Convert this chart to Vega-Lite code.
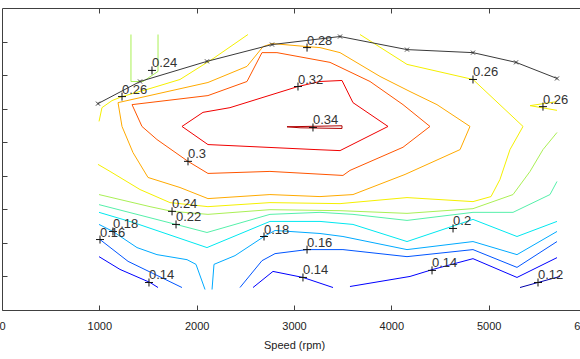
{
  "$schema": "https://vega.github.io/schema/vega-lite/v6.json",
  "width": 578,
  "height": 302,
  "autosize": {"type": "none"},
  "padding": {"left": 2, "top": 8, "right": 0, "bottom": 49},
  "background": "white",
  "config": {"view": {"stroke": null}, "axis": {"grid": false}},
  "datasets": {
    "contours": [
      {"piece":"p1","level":"0.34","o":1,"x":2928,"y":5.46},{"piece":"p1","level":"0.34","o":2,"x":3493,"y":5.49},{"piece":"p1","level":"0.34","o":3,"x":3493,"y":5.41},{"piece":"p1","level":"0.34","o":4,"x":3062,"y":5.43},{"piece":"p1","level":"0.34","o":5,"x":2928,"y":5.46},
      {"piece":"p2","level":"0.32","o":1,"x":1849,"y":5.47},{"piece":"p2","level":"0.32","o":2,"x":2065,"y":5.89},{"piece":"p2","level":"0.32","o":3,"x":2342,"y":6.03},{"piece":"p2","level":"0.32","o":4,"x":3041,"y":6.66},{"piece":"p2","level":"0.32","o":5,"x":3267,"y":6.81},{"piece":"p2","level":"0.32","o":6,"x":3493,"y":6.84},{"piece":"p2","level":"0.32","o":7,"x":3606,"y":6.18},{"piece":"p2","level":"0.32","o":8,"x":3966,"y":5.47},{"piece":"p2","level":"0.32","o":9,"x":3473,"y":4.75},{"piece":"p2","level":"0.32","o":10,"x":3226,"y":4.78},{"piece":"p2","level":"0.32","o":11,"x":2116,"y":4.93},{"piece":"p2","level":"0.32","o":12,"x":1849,"y":5.47},
      {"piece":"p3","level":"0.30","o":1,"x":1336,"y":6.12},{"piece":"p3","level":"0.30","o":2,"x":2116,"y":6.39},{"piece":"p3","level":"0.30","o":3,"x":2517,"y":6.81},{"piece":"p3","level":"0.30","o":4,"x":2671,"y":7.67},{"piece":"p3","level":"0.30","o":5,"x":2825,"y":7.67},{"piece":"p3","level":"0.30","o":6,"x":3370,"y":7.38},{"piece":"p3","level":"0.30","o":7,"x":3781,"y":6.81},{"piece":"p3","level":"0.30","o":8,"x":4120,"y":6.12},{"piece":"p3","level":"0.30","o":9,"x":4397,"y":5.47},{"piece":"p3","level":"0.30","o":10,"x":4120,"y":4.85},{"piece":"p3","level":"0.30","o":11,"x":3575,"y":4.16},{"piece":"p3","level":"0.30","o":12,"x":3503,"y":4.01},{"piece":"p3","level":"0.30","o":13,"x":2753,"y":4.13},{"piece":"p3","level":"0.30","o":14,"x":2116,"y":4.07},{"piece":"p3","level":"0.30","o":15,"x":1911,"y":4.43},{"piece":"p3","level":"0.30","o":16,"x":1592,"y":5.08},{"piece":"p3","level":"0.30","o":17,"x":1438,"y":5.47},{"piece":"p3","level":"0.30","o":18,"x":1336,"y":6.12},
      {"piece":"p4","level":"0.28","o":1,"x":1192,"y":6.18},{"piece":"p4","level":"0.28","o":2,"x":2116,"y":6.78},{"piece":"p4","level":"0.28","o":3,"x":2517,"y":7.26},{"piece":"p4","level":"0.28","o":4,"x":2682,"y":7.85},{"piece":"p4","level":"0.28","o":5,"x":2774,"y":7.94},{"piece":"p4","level":"0.28","o":6,"x":3134,"y":7.85},{"piece":"p4","level":"0.28","o":7,"x":3267,"y":7.82},{"piece":"p4","level":"0.28","o":8,"x":3473,"y":7.67},{"piece":"p4","level":"0.28","o":9,"x":3884,"y":6.96},{"piece":"p4","level":"0.28","o":10,"x":4192,"y":6.51},{"piece":"p4","level":"0.28","o":11,"x":4469,"y":6.12},{"piece":"p4","level":"0.28","o":12,"x":4808,"y":5.47},{"piece":"p4","level":"0.28","o":13,"x":4706,"y":4.78},{"piece":"p4","level":"0.28","o":14,"x":4141,"y":4.04},{"piece":"p4","level":"0.28","o":15,"x":3606,"y":3.44},{"piece":"p4","level":"0.28","o":16,"x":3267,"y":3.38},{"piece":"p4","level":"0.28","o":17,"x":2753,"y":3.44},{"piece":"p4","level":"0.28","o":18,"x":2116,"y":3.32},{"piece":"p4","level":"0.28","o":19,"x":1829,"y":3.65},{"piece":"p4","level":"0.28","o":20,"x":1500,"y":3.95},{"piece":"p4","level":"0.28","o":21,"x":1346,"y":4.69},{"piece":"p4","level":"0.28","o":22,"x":1233,"y":5.47},{"piece":"p4","level":"0.28","o":23,"x":1192,"y":6.18},
      {"piece":"p5","level":"0.26","o":1,"x":997,"y":5.62},{"piece":"p5","level":"0.26","o":2,"x":1027,"y":6.03},{"piece":"p5","level":"0.26","o":3,"x":1130,"y":6.24},{"piece":"p5","level":"0.26","o":4,"x":1233,"y":6.36},{"piece":"p5","level":"0.26","o":5,"x":1521,"y":6.60},{"piece":"p5","level":"0.26","o":6,"x":1829,"y":6.87},{"piece":"p5","level":"0.26","o":7,"x":2168,"y":7.49},{"piece":"p5","level":"0.26","o":8,"x":2527,"y":8.21},
      {"piece":"p6","level":"0.26","o":1,"x":986,"y":4.34},{"piece":"p6","level":"0.26","o":2,"x":1110,"y":4.13},{"piece":"p6","level":"0.26","o":3,"x":1418,"y":3.59},{"piece":"p6","level":"0.26","o":4,"x":1726,"y":3.20},{"piece":"p6","level":"0.26","o":5,"x":2116,"y":3.08},{"piece":"p6","level":"0.26","o":6,"x":2753,"y":3.20},{"piece":"p6","level":"0.26","o":7,"x":3473,"y":3.17},{"piece":"p6","level":"0.26","o":8,"x":4161,"y":3.35},{"piece":"p6","level":"0.26","o":9,"x":4839,"y":3.23},{"piece":"p6","level":"0.26","o":10,"x":5024,"y":3.38},{"piece":"p6","level":"0.26","o":11,"x":5116,"y":3.89},{"piece":"p6","level":"0.26","o":12,"x":5219,"y":4.78},{"piece":"p6","level":"0.26","o":13,"x":5353,"y":5.47},{"piece":"p6","level":"0.26","o":14,"x":4839,"y":6.87},{"piece":"p6","level":"0.26","o":15,"x":4161,"y":7.32},{"piece":"p6","level":"0.26","o":16,"x":3678,"y":8.21},
      {"piece":"p7","level":"0.26","o":1,"x":5702,"y":6.21},{"piece":"p7","level":"0.26","o":2,"x":5425,"y":6.09},{"piece":"p7","level":"0.26","o":3,"x":5702,"y":5.95},
      {"piece":"p8","level":"0.24","o":1,"x":1325,"y":8.21},{"piece":"p8","level":"0.24","o":2,"x":1325,"y":6.81},{"piece":"p8","level":"0.24","o":3,"x":1449,"y":6.81},{"piece":"p8","level":"0.24","o":4,"x":1603,"y":7.11},{"piece":"p8","level":"0.24","o":5,"x":1603,"y":8.21},
      {"piece":"p9","level":"0.24","o":1,"x":997,"y":3.44},{"piece":"p9","level":"0.24","o":2,"x":1521,"y":3.08},{"piece":"p9","level":"0.24","o":3,"x":1747,"y":2.94},{"piece":"p9","level":"0.24","o":4,"x":2116,"y":2.85},{"piece":"p9","level":"0.24","o":5,"x":2753,"y":2.99},{"piece":"p9","level":"0.24","o":6,"x":3473,"y":2.96},{"piece":"p9","level":"0.24","o":7,"x":4161,"y":2.88},{"piece":"p9","level":"0.24","o":8,"x":4839,"y":3.02},{"piece":"p9","level":"0.24","o":9,"x":5250,"y":3.44},{"piece":"p9","level":"0.24","o":10,"x":5425,"y":4.13},{"piece":"p9","level":"0.24","o":11,"x":5558,"y":4.78},{"piece":"p9","level":"0.24","o":12,"x":5702,"y":5.29},
      {"piece":"p10","level":"0.22","o":1,"x":997,"y":3.14},{"piece":"p10","level":"0.22","o":2,"x":1788,"y":2.55},{"piece":"p10","level":"0.22","o":3,"x":2106,"y":2.31},{"piece":"p10","level":"0.22","o":4,"x":2753,"y":2.85},{"piece":"p10","level":"0.22","o":5,"x":3267,"y":2.91},{"piece":"p10","level":"0.22","o":6,"x":3606,"y":2.85},{"piece":"p10","level":"0.22","o":7,"x":4161,"y":2.67},{"piece":"p10","level":"0.22","o":8,"x":4839,"y":2.91},{"piece":"p10","level":"0.22","o":9,"x":5250,"y":2.91},{"piece":"p10","level":"0.22","o":10,"x":5630,"y":3.44},{"piece":"p10","level":"0.22","o":11,"x":5702,"y":3.83},
      {"piece":"p11","level":"0.20","o":1,"x":997,"y":2.91},{"piece":"p11","level":"0.20","o":2,"x":1346,"y":2.61},{"piece":"p11","level":"0.20","o":3,"x":2106,"y":1.86},{"piece":"p11","level":"0.20","o":4,"x":2753,"y":2.64},{"piece":"p11","level":"0.20","o":5,"x":3267,"y":2.64},{"piece":"p11","level":"0.20","o":6,"x":3606,"y":2.55},{"piece":"p11","level":"0.20","o":7,"x":4161,"y":2.04},{"piece":"p11","level":"0.20","o":8,"x":4839,"y":2.70},{"piece":"p11","level":"0.20","o":9,"x":5291,"y":2.19},{"piece":"p11","level":"0.20","o":10,"x":5702,"y":2.64},
      {"piece":"p12","level":"0.18","o":1,"x":997,"y":2.55},{"piece":"p12","level":"0.18","o":2,"x":1140,"y":2.34},{"piece":"p12","level":"0.18","o":3,"x":1387,"y":1.86},{"piece":"p12","level":"0.18","o":4,"x":1592,"y":1.65},{"piece":"p12","level":"0.18","o":5,"x":1901,"y":1.50},{"piece":"p12","level":"0.18","o":6,"x":1993,"y":1.36},{"piece":"p12","level":"0.18","o":7,"x":2086,"y":0.61},
      {"piece":"p13","level":"0.18","o":1,"x":2158,"y":0.61},{"piece":"p13","level":"0.18","o":2,"x":2178,"y":1.36},{"piece":"p13","level":"0.18","o":3,"x":2394,"y":1.62},{"piece":"p13","level":"0.18","o":4,"x":2692,"y":2.19},{"piece":"p13","level":"0.18","o":5,"x":2805,"y":2.37},{"piece":"p13","level":"0.18","o":6,"x":3267,"y":2.28},{"piece":"p13","level":"0.18","o":7,"x":3503,"y":2.19},{"piece":"p13","level":"0.18","o":8,"x":4161,"y":1.80},{"piece":"p13","level":"0.18","o":9,"x":4839,"y":2.04},{"piece":"p13","level":"0.18","o":10,"x":5291,"y":1.65},{"piece":"p13","level":"0.18","o":11,"x":5702,"y":2.34},
      {"piece":"p14","level":"0.16","o":1,"x":1007,"y":2.10},{"piece":"p14","level":"0.16","o":2,"x":1295,"y":1.45},{"piece":"p14","level":"0.16","o":3,"x":1849,"y":0.67},
      {"piece":"p15","level":"0.16","o":1,"x":2445,"y":0.67},{"piece":"p15","level":"0.16","o":2,"x":2671,"y":1.47},{"piece":"p15","level":"0.16","o":3,"x":2805,"y":1.68},{"piece":"p15","level":"0.16","o":4,"x":3134,"y":1.80},{"piece":"p15","level":"0.16","o":5,"x":3503,"y":1.80},{"piece":"p15","level":"0.16","o":6,"x":4161,"y":1.59},{"piece":"p15","level":"0.16","o":7,"x":4839,"y":1.80},{"piece":"p15","level":"0.16","o":8,"x":5291,"y":1.27},{"piece":"p15","level":"0.16","o":9,"x":5702,"y":2.04},
      {"piece":"p16","level":"0.14","o":1,"x":997,"y":1.59},{"piece":"p16","level":"0.14","o":2,"x":1212,"y":1.21},{"piece":"p16","level":"0.14","o":3,"x":1521,"y":0.82},{"piece":"p16","level":"0.14","o":4,"x":1603,"y":0.67},
      {"piece":"p17","level":"0.14","o":1,"x":2579,"y":0.67},{"piece":"p17","level":"0.14","o":2,"x":2784,"y":1.15},{"piece":"p17","level":"0.14","o":3,"x":3092,"y":0.97},{"piece":"p17","level":"0.14","o":4,"x":3401,"y":0.67},
      {"piece":"p18","level":"0.14","o":1,"x":3575,"y":0.70},{"piece":"p18","level":"0.14","o":2,"x":4192,"y":1.00},{"piece":"p18","level":"0.14","o":3,"x":4428,"y":1.21},{"piece":"p18","level":"0.14","o":4,"x":4839,"y":1.53},{"piece":"p18","level":"0.14","o":5,"x":5291,"y":0.97},{"piece":"p18","level":"0.14","o":6,"x":5702,"y":1.56},
      {"piece":"p19","level":"0.12","o":1,"x":5322,"y":0.67},{"piece":"p19","level":"0.12","o":2,"x":5507,"y":0.82},{"piece":"p19","level":"0.12","o":3,"x":5733,"y":1.00}
    ],
    "boundary": [
      {"o":1,"x":986,"y":6.15},{"o":2,"x":1418,"y":6.81},{"o":3,"x":2106,"y":7.41},{"o":4,"x":2774,"y":7.91},{"o":5,"x":3473,"y":8.15},{"o":6,"x":4161,"y":7.76},{"o":7,"x":4839,"y":7.67},{"o":8,"x":5281,"y":7.38},{"o":9,"x":5702,"y":6.90}
    ],
    "labels": [
      {"text":"0.24","x":1541,"y":7.14},{"text":"0.26","x":1233,"y":6.36},{"text":"0.28","x":3134,"y":7.82},{"text":"0.32","x":3041,"y":6.66},{"text":"0.34","x":3195,"y":5.44},{"text":"0.3","x":1911,"y":4.43},{"text":"0.26","x":4839,"y":6.87},{"text":"0.26","x":5558,"y":6.06},{"text":"0.24","x":1747,"y":2.94},{"text":"0.22","x":1788,"y":2.55},{"text":"0.18","x":1140,"y":2.34},{"text":"0.16","x":1007,"y":2.10},{"text":"0.18","x":2692,"y":2.19},{"text":"0.16","x":3134,"y":1.80},{"text":"0.2","x":4634,"y":2.43},{"text":"0.14","x":1510,"y":0.82},{"text":"0.14","x":3092,"y":0.97},{"text":"0.14","x":4418,"y":1.18},{"text":"0.12","x":5507,"y":0.82}
    ]
  },
  "resolve": {"axis": {"x": "independent"}},
  "layer": [
    {
      "data": {"name": "contours"},
      "mark": {"type": "line", "strokeWidth": 1},
      "encoding": {
        "x": {"field": "x", "type": "quantitative", "scale": {"domain": [0, 6000], "range": [0, 584], "nice": false, "zero": false},
          "axis": {"orient": "bottom", "values": [0,1000,2000,3000,4000,5000,6000], "format": "d", "tickSize": -5, "labelPadding": 15, "labelFontSize": 11, "labelFont": "Liberation Sans", "labelColor": "#222222", "tickColor": "#404040", "domainColor": "#404040", "labelFlush": false, "labelOverlap": false, "title": "Speed (rpm)", "titleFont": "Liberation Sans", "titleFontSize": 11, "titleFontWeight": "normal", "titleColor": "#222222", "titlePadding": 8}},
        "y": {"field": "y", "type": "quantitative", "scale": {"domain": [0, 9], "nice": false, "zero": false},
          "axis": {"orient": "left", "values": [1,2,3,4,5,6,7,8], "tickSize": -5, "labels": false, "title": null, "tickColor": "#404040", "domainColor": "#404040"}},
        "color": {"field": "level", "type": "nominal", "legend": null,
          "scale": {"domain": ["0.12","0.14","0.16","0.18","0.20","0.22","0.24","0.26","0.28","0.30","0.32","0.34"],
                    "range": ["#0000aa","#0000ff","#0055ff","#00aaff","#00e8f0","#55f0aa","#aaf055","#f5f000","#ffaa00","#ff5500","#f00000","#b00000"]}},
        "detail": {"field": "piece"},
        "order": {"field": "o", "type": "quantitative"}
      }
    },
    {
      "data": {"name": "boundary"},
      "mark": {"type": "line", "color": "#3a3a3a", "strokeWidth": 1},
      "encoding": {
        "x": {"field": "x", "type": "quantitative",
          "axis": {"orient": "top", "values": [1000,2000,3000,4000,5000,6000], "tickSize": -5, "labels": false, "title": null, "tickColor": "#404040", "domainColor": "#404040"}},
        "y": {"field": "y", "type": "quantitative"},
        "order": {"field": "o", "type": "quantitative"}
      }
    },
    {
      "data": {"name": "boundary"},
      "mark": {"type": "point", "shape": "M-1,-1L1,1M-1,1L1,-1", "filled": false, "size": 16, "color": "#3a3a3a", "strokeWidth": 1, "opacity": 1},
      "encoding": {
        "x": {"field": "x", "type": "quantitative", "axis": null},
        "y": {"field": "y", "type": "quantitative"}
      }
    },
    {
      "data": {"name": "labels"},
      "mark": {"type": "point", "shape": "M-1,0L1,0M0,-1L0,1", "filled": false, "size": 64, "color": "#111111", "strokeWidth": 1, "opacity": 1},
      "encoding": {
        "x": {"field": "x", "type": "quantitative", "axis": null},
        "y": {"field": "y", "type": "quantitative"}
      }
    },
    {
      "data": {"name": "labels"},
      "mark": {"type": "text", "align": "left", "baseline": "alphabetic", "dx": 0, "dy": -3, "font": "Liberation Sans", "fontSize": 13, "color": "#333333"},
      "encoding": {
        "x": {"field": "x", "type": "quantitative", "axis": null},
        "y": {"field": "y", "type": "quantitative"},
        "text": {"field": "text"}
      }
    }
  ]
}
